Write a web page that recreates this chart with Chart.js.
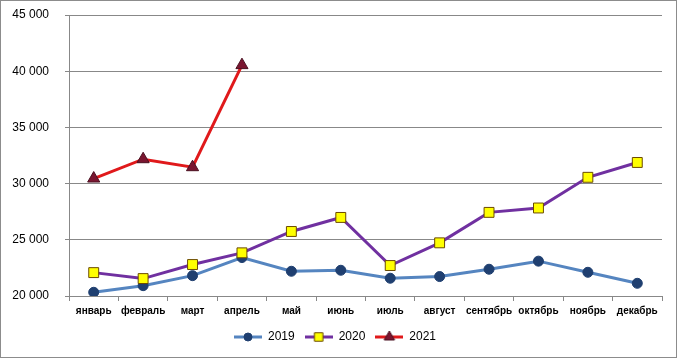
<!DOCTYPE html>
<html>
<head>
<meta charset="utf-8">
<script src="https://cdn.jsdelivr.net/npm/chart.js@4/dist/chart.umd.min.js"></script>
<style>
  html, body { margin: 0; padding: 0; background: #fff; }
  #wrap { width: 678px; height: 359px; position: relative; }
</style>
</head>
<body>
<div id="wrap"><canvas id="chart" width="678" height="359"></canvas></div>
<script>
// --- Data ---
const months = ['январь', 'февраль', 'март', 'апрель', 'май', 'июнь',
                'июль', 'август', 'сентябрь', 'октябрь', 'ноябрь', 'декабрь'];
const values2019 = [20330, 20920, 21810, 23420, 22200, 22290, 21580, 21730, 22380, 23100, 22110, 21130];
const values2020 = [22080, 21550, 22800, 23840, 25740, 26990, 22710, 24730, 27440, 27830, 30560, 31880];
const values2021 = [30450, 32170, 31460, 40540, null, null, null, null, null, null, null, null];
const yTicks = [20000, 25000, 30000, 35000, 40000, 45000];

// --- Styles ---
const styles = [
    { line: '#5585C0', fill: '#1F3F70', border: '#1F3F70', shape: 'circle', radius: 5 },
    { line: '#7030A0', fill: '#FFFF00', border: '#6B4A00', shape: 'rect', radius: 7 },
    { line: '#E0191B', fill: '#7A1530', border: '#4A1020', shape: 'triangle', radius: 7 }
];

// legend swatch: line with marker in the middle
function legendSwatch(s) {
    const c = document.createElement('canvas');
    c.width = 28; c.height = 14;
    const g = c.getContext('2d');
    g.strokeStyle = s.line;
    g.lineWidth = 3;
    g.beginPath(); g.moveTo(0, 7); g.lineTo(28, 7); g.stroke();
    g.fillStyle = s.fill;
    g.strokeStyle = s.border;
    g.lineWidth = 1;
    Chart.helpers.drawPoint(g, { pointStyle: s.shape, radius: s.radius - 1, borderWidth: 1 }, 14, 7);
    return c;
}

function makeDataset(label, data, s, order) {
    return {
        label: label,
        data: data,
        order: order,
        borderColor: s.line,
        borderWidth: 3,
        pointStyle: s.shape,
        pointRadius: s.radius,
        pointHoverRadius: s.radius,
        pointBackgroundColor: s.fill,
        pointBorderColor: s.border,
        pointBorderWidth: 1,
        tension: 0,
        spanGaps: false,
        fill: false
    };
}

const frame = {
    id: 'frame',
    beforeDraw(chart) {
        const ctx = chart.ctx;
        ctx.save();
        ctx.fillStyle = '#fff';
        ctx.fillRect(0, 0, chart.width, chart.height);
        ctx.restore();
    },
    afterDraw(chart) {
        const ctx = chart.ctx;
        ctx.save();
        ctx.strokeStyle = '#8c8c8c';
        ctx.lineWidth = 1;
        ctx.strokeRect(0.5, 0.5, 676, 357);
        ctx.restore();
    }
};

const swatches = styles.map(legendSwatch);

new Chart(document.getElementById('chart'), {
    type: 'line',
    data: {
        labels: months,
        datasets: [
            makeDataset('2019', values2019, styles[0], 3),
            makeDataset('2020', values2020, styles[1], 2),
            makeDataset('2021', values2021, styles[2], 1)
        ]
    },
    options: {
        responsive: false,
        animation: false,
        devicePixelRatio: 1,
        layout: { padding: { left: 8, right: 16, top: 15, bottom: 6 } },
        plugins: {
            tooltip: { enabled: false },
            legend: {
                position: 'bottom',
                labels: {
                    usePointStyle: true,
                    pointStyleWidth: 28,
                    padding: 10,
                    color: '#000',
                    font: { family: 'Liberation Sans', size: 12 },
                    sort: (a, b) => a.datasetIndex - b.datasetIndex,
                    generateLabels(chart) {
                        const items = Chart.defaults.plugins.legend.labels.generateLabels(chart);
                        items.forEach(it => { it.pointStyle = swatches[it.datasetIndex]; });
                        return items;
                    }
                }
            }
        },
        scales: {
            x: {
                offset: true,
                grid: {
                    offset: true,
                    drawOnChartArea: false,
                    drawTicks: true,
                    tickLength: 5,
                    color: '#888'
                },
                border: { color: '#888', width: 1 },
                ticks: {
                    color: '#000',
                    padding: 4,
                    maxRotation: 0,
                    autoSkip: false,
                    font: { family: 'Liberation Sans', size: 10, weight: 'bold' }
                }
            },
            y: {
                min: 20000,
                max: 45000,
                afterBuildTicks(scale) { scale.ticks = yTicks.map(v => ({ value: v })); },
                afterFit(scale) {
                    scale.width = 61;
                    scale.paddingTop = 0;
                    scale.paddingBottom = 0;
                },
                grid: { color: '#888', tickLength: 4 },
                border: { color: '#888', width: 1 },
                ticks: {
                    color: '#000',
                    padding: 16,
                    font: { family: 'Liberation Sans', size: 12 },
                    callback: v => v.toLocaleString('ru-RU').replace(/\s/g, ' ')
                }
            }
        }
    },
    plugins: [frame]
});
</script>
</body>
</html>
